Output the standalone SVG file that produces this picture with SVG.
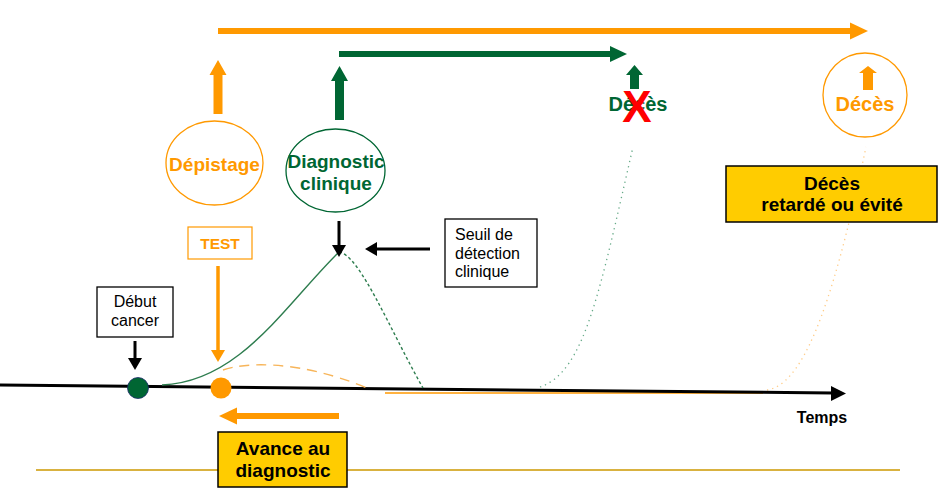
<svg xmlns="http://www.w3.org/2000/svg" width="944" height="496" viewBox="0 0 944 496">
<style>
text{font-family:"Liberation Sans",Arial,sans-serif}
.b{font-weight:bold}
.or{fill:#FF9900}
.gr{fill:#006633}
.lbl{font-size:16px;fill:#000}
.box{fill:#fff;stroke:#000;stroke-width:1.3}
.ybox{fill:#FFCC00;stroke:#000;stroke-width:1.5}
.blk{stroke:#000;stroke-width:3;fill:none}
</style>
<defs>
<marker id="hb" viewBox="0 0 12 14" refX="1" refY="7" markerWidth="12" markerHeight="14" markerUnits="userSpaceOnUse" orient="auto"><path d="M0,0 L12,7 L0,14 z" fill="#000"/></marker>
<marker id="ho" viewBox="0 0 12 14" refX="1" refY="7" markerWidth="12" markerHeight="14" markerUnits="userSpaceOnUse" orient="auto"><path d="M0,0 L12,7 L0,14 z" fill="#FF9900"/></marker>
</defs>
<rect width="944" height="496" fill="#fff"/>
<!-- bottom rule -->
<line x1="36" y1="470" x2="900" y2="470" stroke="#CC9900" stroke-width="1.5"/>
<g id="connectors">
  <!-- top orange arrow -->
  <line x1="218" y1="31" x2="851" y2="31" stroke="#FF9900" stroke-width="6"/>
  <polygon points="850,22.5 868,31 850,39.5" fill="#FF9900"/>
  <!-- green arrow -->
  <line x1="339" y1="54" x2="611" y2="54" stroke="#006633" stroke-width="6"/>
  <polygon points="610,46 627,54 610,62" fill="#006633"/>
  <!-- up arrows -->
  <polygon points="213.5,114 222.5,114 222.5,75 226.5,75 218,60 209.5,75 213.5,75" fill="#FF9900"/>
  <polygon points="335,120 344,120 344,81 348,81 339.5,66 331,81 335,81" fill="#006633"/>
  <polygon points="630,89 639,89 639,75 643,75 634.5,65 626,75 630,75" fill="#006633"/>
  <polygon points="863,90 873,90 873,73 877,73 868,66 859,73 863,73" fill="#FF9900"/>
  <!-- dotted death curves -->
  <path d="M540,387 C585,372 600,290 633,147" fill="none" stroke="#66AA88" stroke-width="1.3" stroke-dasharray="1.3 4"/>
  <path d="M767,390 C800,385 830,320 866,147" fill="none" stroke="#FFCC88" stroke-width="1.3" stroke-dasharray="1.3 4"/>
  <!-- orange thin line on axis -->
  <line x1="385" y1="393" x2="763" y2="393" stroke="#FF9900" stroke-width="1.3"/>
  <!-- time axis -->
  <line x1="0" y1="385" x2="833" y2="393" stroke="#000" stroke-width="3"/>
  <polygon points="831,386 846,393.5 831,401" fill="#000"/>
  <!-- tumour curves -->
  <path d="M162,385 C240,382 285,305 339,252" fill="none" stroke="#2E7D4F" stroke-width="1.4"/>
  <path d="M339,252 C360,255 390,330 423,388" fill="none" stroke="#2E7D4F" stroke-width="1.4" stroke-dasharray="3 2.5"/>
  <path d="M223,370 C245,362 300,360 367,388" fill="none" stroke="#F7B55A" stroke-width="1.4" stroke-dasharray="10 7"/>
  <!-- black thin arrows -->
  <line x1="135" y1="341" x2="135" y2="359" class="blk" marker-end="url(#hb)"/>
  <line x1="339" y1="221" x2="339" y2="246" class="blk" marker-end="url(#hb)"/>
  <line x1="430" y1="249" x2="376" y2="249" class="blk" marker-end="url(#hb)"/>
  <!-- orange TEST arrow -->
  <line x1="218" y1="266" x2="218" y2="351" stroke="#FF9900" stroke-width="3.5" marker-end="url(#ho)"/>
  <!-- lead time arrow -->
  <line x1="339" y1="416" x2="236" y2="416" stroke="#FF9900" stroke-width="6"/>
  <polygon points="237,407.5 219,416 237,424.5" fill="#FF9900"/>
</g>
<g id="debut-dot"><circle cx="138" cy="388" r="10.5" fill="#006633" stroke="#1a2a6a" stroke-width="0.8"/></g>
<g id="test-dot"><circle cx="221" cy="388" r="10.5" fill="#FF9900"/></g>
<g id="depistage">
  <ellipse cx="214.5" cy="163" rx="48.5" ry="42" fill="none" stroke="#FF9900" stroke-width="1.3"/>
  <text x="214.5" y="171" text-anchor="middle" font-size="19" class="b or">Dépistage</text>
</g>
<g id="diagnostic">
  <ellipse cx="335.5" cy="170.5" rx="49.5" ry="41.5" fill="none" stroke="#006633" stroke-width="1.3"/>
  <text x="336" y="168" text-anchor="middle" font-size="19" class="b gr">Diagnostic</text>
  <text x="336" y="190" text-anchor="middle" font-size="19" class="b gr">clinique</text>
</g>
<g id="deces-vert">
  <text x="638" y="111" text-anchor="middle" font-size="20" class="b gr">Décès</text>
  <text x="637" y="122" text-anchor="middle" font-size="44" class="b" fill="#FF0000">X</text>
</g>
<g id="deces-orange">
  <circle cx="865" cy="95" r="42" fill="none" stroke="#FF9900" stroke-width="1.3"/>
  <text x="865" y="111" text-anchor="middle" font-size="20" class="b or">Décès</text>
</g>
<g id="deces-retarde">
  <rect x="726" y="166" width="211" height="56" class="ybox"/>
  <text x="832" y="190" text-anchor="middle" font-size="19" class="b">Décès</text>
  <text x="832" y="211" text-anchor="middle" font-size="19" class="b">retardé ou évité</text>
</g>
<g id="test">
  <rect x="188" y="227" width="64" height="32" fill="none" stroke="#FF9900" stroke-width="1.2"/>
  <text x="220" y="248.5" text-anchor="middle" font-size="15.5" class="b or">TEST</text>
</g>
<g id="seuil">
  <rect x="445" y="219" width="92" height="68" class="box"/>
  <text x="455" y="240" class="lbl">Seuil de</text>
  <text x="455" y="259" class="lbl">détection</text>
  <text x="455" y="277" class="lbl">clinique</text>
</g>
<g id="debut">
  <rect x="97" y="287" width="76" height="50" class="box"/>
  <text x="135" y="307" text-anchor="middle" class="lbl">Début</text>
  <text x="135" y="326" text-anchor="middle" class="lbl">cancer</text>
</g>
<g id="temps"><text x="822" y="423" text-anchor="middle" font-size="16" class="b">Temps</text></g>
<g id="avance">
  <rect x="218" y="432" width="129" height="55" class="ybox"/>
  <text x="283" y="455" text-anchor="middle" font-size="19" class="b">Avance au</text>
  <text x="283" y="477" text-anchor="middle" font-size="19" class="b">diagnostic</text>
</g>
</svg>
